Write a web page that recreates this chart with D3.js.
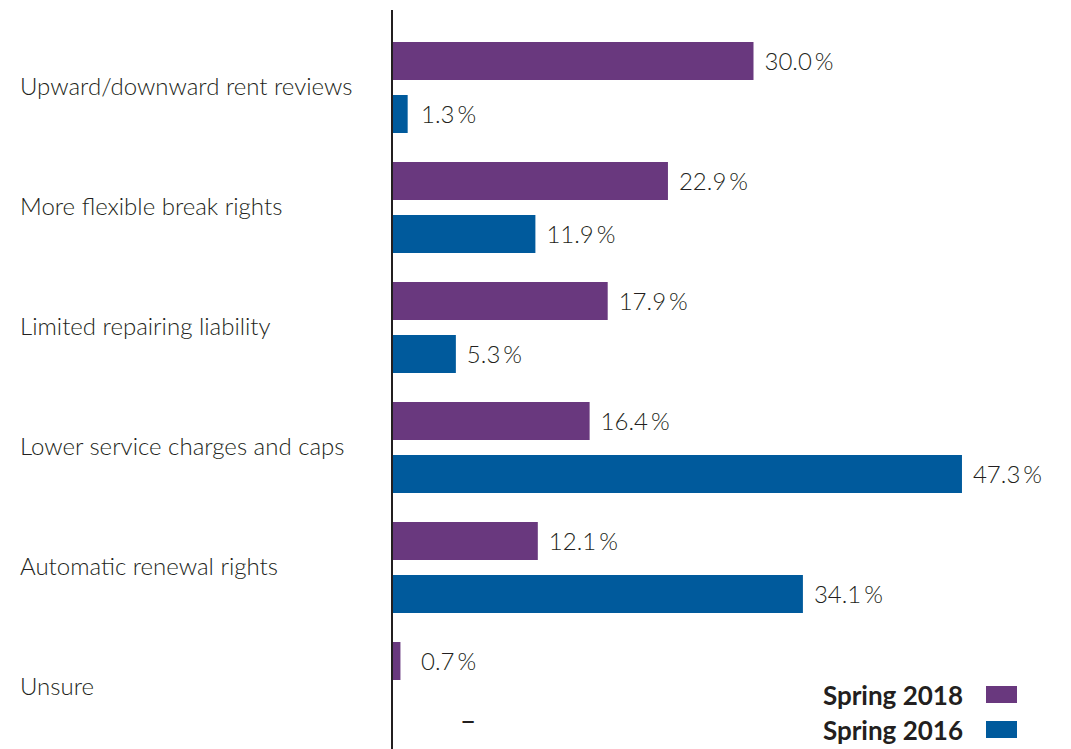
<!DOCTYPE html>
<html>
<head>
<meta charset="utf-8">
<script src="https://cdn.jsdelivr.net/npm/d3@7/dist/d3.min.js"></script>
<style>
  html, body { margin: 0; padding: 0; background: #ffffff; }
  svg { display: block; }
</style>
</head>
<body>
<script>
// Lease terms sought by occupiers, share of respondents (%)
const categories = [
  "Upward/downward rent reviews",
  "More flexible break rights",
  "Limited repairing liability",
  "Lower service charges and caps",
  "Automatic renewal rights",
  "Unsure"
];
const seriesNames = ["Spring 2018", "Spring 2016"];
const spring2018 = [30.0, 22.9, 17.9, 16.4, 12.1, 0.7];
const spring2016 = [1.3, 11.9, 5.3, 47.3, 34.1, null];

const colors = { "Spring 2018": "#69387e", "Spring 2016": "#005a9c" };

const W = 1071, H = 749;
const fontLight = "Lato, 'Open Sans', sans-serif";
const textColor = "#231f20";

const svg = d3.select("body").append("svg")
  .attr("width", W).attr("height", H);

// Scales
const x = d3.scaleLinear().domain([0, 50]).range([392, 392 + 50 * 12.05]);
const y = d3.scaleBand().domain(categories).range([42, 42 + 120 * categories.length]);
const yInner = d3.scaleBand().domain(seriesNames).range([0, 91]).paddingInner(15 / 53);

const rows = categories.map((c, i) => ({
  category: c,
  values: [
    { series: "Spring 2018", value: spring2018[i] },
    { series: "Spring 2016", value: spring2016[i] }
  ]
}));

// Category labels
svg.append("g").selectAll("text")
  .data(categories)
  .join("text")
  .attr("x", 20)
  .attr("y", d => y(d) + yInner.range()[1] / 2 + 7)
  .attr("font-family", fontLight)
  .attr("font-weight", 300)
  .attr("font-size", 24)
  .attr("fill", textColor)
  .text(d => d);

// Bars and value labels
const groups = svg.append("g").selectAll("g")
  .data(rows)
  .join("g")
  .attr("transform", d => `translate(0,${y(d.category)})`);

groups.selectAll("rect")
  .data(d => d.values.filter(v => v.value != null))
  .join("rect")
  .attr("x", x(0))
  .attr("y", d => yInner(d.series))
  .attr("width", d => x(d.value) - x(0))
  .attr("height", yInner.bandwidth())
  .attr("fill", d => colors[d.series]);

const fmt = d3.format(".1f");
groups.selectAll("text")
  .data(d => d.values)
  .join("text")
  .attr("x", d => d.value == null ? x(0) + 76 : Math.max(x(d.value) + 11, x(0) + 29))
  .attr("y", d => yInner(d.series) + yInner.bandwidth() / 2 + (d.value == null ? 17 : 9))
  .attr("text-anchor", d => d.value == null ? "middle" : "start")
  .attr("font-family", fontLight)
  .attr("font-weight", d => d.value == null ? 400 : 300)
  .attr("font-size", d => d.value == null ? 28 : 24)
  .attr("fill", textColor)
  .text(d => d.value == null ? "\u2013" : fmt(d.value) + "\u2009%");

// Vertical baseline
svg.append("line")
  .attr("x1", x(0)).attr("x2", x(0))
  .attr("y1", 10).attr("y2", H)
  .attr("stroke", textColor)
  .attr("stroke-width", 2);

// Legend
const legend = svg.append("g").selectAll("g")
  .data(seriesNames)
  .join("g")
  .attr("transform", (d, i) => `translate(0,${686 + i * 35})`);

legend.append("text")
  .attr("x", 963)
  .attr("y", 19)
  .attr("text-anchor", "end")
  .attr("font-family", fontLight)
  .attr("font-weight", 700)
  .attr("font-size", 26)
  .attr("fill", textColor)
  .text(d => d);

legend.append("rect")
  .attr("x", 986)
  .attr("y", 0)
  .attr("width", 31)
  .attr("height", 17)
  .attr("fill", d => colors[d]);
</script>
</body>
</html>
